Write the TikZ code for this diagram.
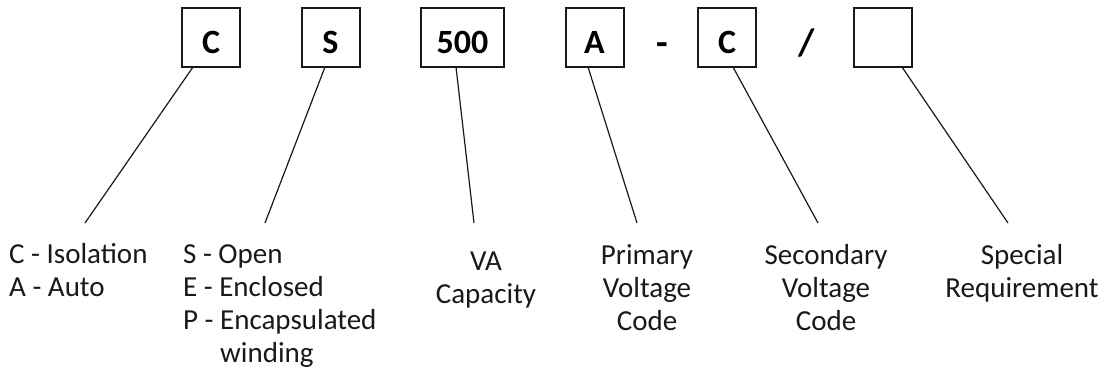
\documentclass[tikz,border=0pt]{standalone}
\usepackage{fontspec}
\setmainfont{Carlito}
\begin{document}
\begin{tikzpicture}[x=1pt,y=-1pt,
  codebox/.style={draw=black!90,line width=2pt,minimum width=58pt,minimum height=59pt,inner sep=0pt,
    font=\fontsize{34}{34}\selectfont\bfseries,text height=31pt,text depth=0pt},
  sep/.style={inner sep=0pt,font=\fontsize{38}{38}\selectfont\bfseries,anchor=base},
  lbl/.style={inner sep=0pt,font=\fontsize{29}{33}\selectfont,text=black!90},
  lead/.style={line width=1.2pt,draw=black!90}]
\useasboundingbox (0,0) rectangle (1116,373);
% boxes
\node[codebox] (bc) at (211,37.5) {C};
\node[codebox] (bs) at (330.5,37.5) {S};
\node[codebox,minimum width=83pt] (b500) at (462.5,37.5) {500};
\node[codebox] (ba) at (594.5,37.5) {A};
\node[sep] (dash) at (662,55) {-};
\node[codebox] (bc2) at (727,37.5) {C};
\node[sep] (slash) at (807,55) {/};
\node[codebox] (bx) at (882.5,37.5) {};
% labels (base anchor = baseline of last line)
\node[lbl,align=left,anchor=base west] (lc) at (9,296) {C - Isolation\\A - Auto};
\node[lbl,align=left,anchor=base west] (ls) at (183,362) {S - Open\\E - Enclosed\\P - Encapsulated\\\phantom{P - }winding};
\node[lbl,align=center,anchor=base] (lva) at (486,303) {VA\\Capacity};
\node[lbl,align=center,anchor=base] (lpv) at (647,330) {Primary\\Voltage\\Code};
\node[lbl,align=center,anchor=base] (lsv) at (826,330) {Secondary\\Voltage\\Code};
\node[lbl,align=center,anchor=base] (lsp) at (1022,297) {Special\\Requirement};
% connector end points
\coordinate (c1) at (193,67);   \coordinate (e1) at (85,223);
\coordinate (c2) at (325,67);   \coordinate (e2) at (265,223);
\coordinate (c3) at (456,67);   \coordinate (e3) at (474,223);
\coordinate (c4) at (588,67);   \coordinate (e4) at (637,223);
\coordinate (c5) at (733,67);   \coordinate (e5) at (818,223);
\coordinate (c6) at (902,67);   \coordinate (e6) at (1008,223);
\draw[lead] (c1) -- (e1);
\draw[lead] (c2) -- (e2);
\draw[lead] (c3) -- (e3);
\draw[lead] (c4) -- (e4);
\draw[lead] (c5) -- (e5);
\draw[lead] (c6) -- (e6);
\end{tikzpicture}
\end{document}
